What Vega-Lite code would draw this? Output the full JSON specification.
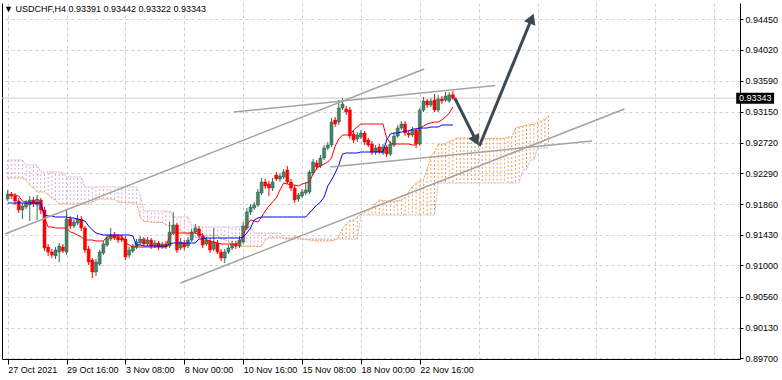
{
"$schema": "https://vega.github.io/schema/vega-lite/v6.json",
"width": 738, "height": 356,
"autosize": {"type": "none"},
"padding": {"left": 2, "top": 3, "right": 42, "bottom": 21},
"background": "white",
"config": {"view": {"stroke": null}, "font": "Liberation Sans"},
"title": {"text": "▼ USDCHF,H4  0.93391 0.93442 0.93322 0.93343", "anchor": "start", "frame": "group", "orient": "top", "offset": -6, "dy": 9, "baseline": "middle", "fontSize": 9, "fontWeight": "normal", "font": "Liberation Sans", "color": "#000", "dx": 2},
"datasets": {
"bars": [
{"i":0,"o":0.91931,"h":0.92057,"l":0.91903,"c":0.92001,"t":0.91987,"k":0.91875},
{"i":1,"o":0.92001,"h":0.92029,"l":0.91931,"c":0.91973,"t":0.91987,"k":0.91875},
{"i":2,"o":0.91973,"h":0.92015,"l":0.91847,"c":0.91903,"t":0.91987,"k":0.91875},
{"i":3,"o":0.91903,"h":0.91945,"l":0.91735,"c":0.91777,"t":0.91973,"k":0.91875},
{"i":4,"o":0.91777,"h":0.91875,"l":0.91651,"c":0.91833,"t":0.91903,"k":0.91875},
{"i":5,"o":0.91819,"h":0.91917,"l":0.91791,"c":0.91875,"t":0.91889,"k":0.91875},
{"i":6,"o":0.91847,"h":0.91973,"l":0.91623,"c":0.91917,"t":0.91889,"k":0.91875},
{"i":7,"o":0.91917,"h":0.91959,"l":0.91819,"c":0.91861,"t":0.91875,"k":0.91875},
{"i":8,"o":0.91847,"h":0.91987,"l":0.91637,"c":0.91931,"t":0.91875,"k":0.91875},
{"i":9,"o":0.91917,"h":0.91945,"l":0.91721,"c":0.91777,"t":0.91875,"k":0.91875},
{"i":10,"o":0.91777,"h":0.91819,"l":0.91203,"c":0.91245,"t":0.91665,"k":0.91707},
{"i":11,"o":0.91259,"h":0.91301,"l":0.91133,"c":0.91189,"t":0.91539,"k":0.91693},
{"i":12,"o":0.91189,"h":0.91231,"l":0.91105,"c":0.91147,"t":0.91539,"k":0.91693},
{"i":13,"o":0.91133,"h":0.91259,"l":0.91091,"c":0.91217,"t":0.91525,"k":0.91679},
{"i":14,"o":0.91189,"h":0.91315,"l":0.91049,"c":0.91273,"t":0.91525,"k":0.91679},
{"i":15,"o":0.91259,"h":0.91301,"l":0.91175,"c":0.91203,"t":0.91525,"k":0.91679},
{"i":16,"o":0.91189,"h":0.91777,"l":0.91147,"c":0.91651,"t":0.91525,"k":0.91679},
{"i":17,"o":0.91651,"h":0.91693,"l":0.91511,"c":0.91553,"t":0.91469,"k":0.91665},
{"i":18,"o":0.91553,"h":0.91651,"l":0.91525,"c":0.91609,"t":0.91455,"k":0.91665},
{"i":19,"o":0.91595,"h":0.91707,"l":0.91567,"c":0.91651,"t":0.91427,"k":0.91651},
{"i":20,"o":0.91651,"h":0.91693,"l":0.91483,"c":0.91525,"t":0.91399,"k":0.91637},
{"i":21,"o":0.91525,"h":0.91553,"l":0.91175,"c":0.91217,"t":0.91357,"k":0.91623},
{"i":22,"o":0.91231,"h":0.91273,"l":0.91007,"c":0.91049,"t":0.91357,"k":0.91553},
{"i":23,"o":0.91077,"h":0.91105,"l":0.90825,"c":0.90909,"t":0.91357,"k":0.91497},
{"i":24,"o":0.90909,"h":0.91091,"l":0.90853,"c":0.91049,"t":0.91343,"k":0.91455},
{"i":25,"o":0.91021,"h":0.91217,"l":0.90993,"c":0.91189,"t":0.91343,"k":0.91441},
{"i":26,"o":0.91175,"h":0.91343,"l":0.91147,"c":0.91301,"t":0.91343,"k":0.91427},
{"i":27,"o":0.91287,"h":0.91427,"l":0.91259,"c":0.91385,"t":0.91399,"k":0.91427},
{"i":28,"o":0.91371,"h":0.91525,"l":0.91343,"c":0.91427,"t":0.91413,"k":0.91427},
{"i":29,"o":0.91427,"h":0.91469,"l":0.91357,"c":0.91385,"t":0.91413,"k":0.91427},
{"i":30,"o":0.91399,"h":0.91441,"l":0.91315,"c":0.91357,"t":0.91413,"k":0.91427},
{"i":31,"o":0.91385,"h":0.91427,"l":0.91329,"c":0.91357,"t":0.91413,"k":0.91427},
{"i":32,"o":0.91371,"h":0.91413,"l":0.91077,"c":0.91119,"t":0.91315,"k":0.91427},
{"i":33,"o":0.91147,"h":0.91259,"l":0.91105,"c":0.91217,"t":0.91287,"k":0.91427},
{"i":34,"o":0.91203,"h":0.91301,"l":0.91175,"c":0.91273,"t":0.91259,"k":0.91413},
{"i":35,"o":0.91259,"h":0.91371,"l":0.91231,"c":0.91329,"t":0.91259,"k":0.91287},
{"i":36,"o":0.91315,"h":0.91413,"l":0.91287,"c":0.91371,"t":0.91259,"k":0.91287},
{"i":37,"o":0.91371,"h":0.91399,"l":0.91273,"c":0.91301,"t":0.91259,"k":0.91273},
{"i":38,"o":0.91301,"h":0.91399,"l":0.91273,"c":0.91357,"t":0.91259,"k":0.91273},
{"i":39,"o":0.91357,"h":0.91385,"l":0.91231,"c":0.91273,"t":0.91259,"k":0.91273},
{"i":40,"o":0.91273,"h":0.91357,"l":0.91245,"c":0.91315,"t":0.91259,"k":0.91273},
{"i":41,"o":0.91315,"h":0.91343,"l":0.91217,"c":0.91259,"t":0.91259,"k":0.91273},
{"i":42,"o":0.91259,"h":0.91329,"l":0.91231,"c":0.91301,"t":0.91259,"k":0.91273},
{"i":43,"o":0.91301,"h":0.91343,"l":0.91231,"c":0.91259,"t":0.91259,"k":0.91273},
{"i":44,"o":0.91273,"h":0.91609,"l":0.91245,"c":0.91469,"t":0.91413,"k":0.91301},
{"i":45,"o":0.91455,"h":0.91749,"l":0.91427,"c":0.91567,"t":0.91455,"k":0.91315},
{"i":46,"o":0.91567,"h":0.91595,"l":0.91175,"c":0.91217,"t":0.91455,"k":0.91315},
{"i":47,"o":0.91245,"h":0.91385,"l":0.91217,"c":0.91329,"t":0.91455,"k":0.91315},
{"i":48,"o":0.91315,"h":0.91357,"l":0.91217,"c":0.91259,"t":0.91455,"k":0.91315},
{"i":49,"o":0.91273,"h":0.91399,"l":0.91245,"c":0.91357,"t":0.91455,"k":0.91315},
{"i":50,"o":0.91357,"h":0.91511,"l":0.91329,"c":0.91469,"t":0.91455,"k":0.91315},
{"i":51,"o":0.91469,"h":0.91581,"l":0.91441,"c":0.91525,"t":0.91455,"k":0.91315},
{"i":52,"o":0.91511,"h":0.91553,"l":0.91385,"c":0.91413,"t":0.91441,"k":0.91371},
{"i":53,"o":0.91413,"h":0.91455,"l":0.91245,"c":0.91287,"t":0.91427,"k":0.91371},
{"i":54,"o":0.91301,"h":0.91399,"l":0.91273,"c":0.91357,"t":0.91357,"k":0.91385},
{"i":55,"o":0.91343,"h":0.91385,"l":0.91175,"c":0.91217,"t":0.91343,"k":0.91385},
{"i":56,"o":0.91231,"h":0.91525,"l":0.91203,"c":0.91329,"t":0.91329,"k":0.91385},
{"i":57,"o":0.91315,"h":0.91357,"l":0.91161,"c":0.91189,"t":0.91315,"k":0.91385},
{"i":58,"o":0.91189,"h":0.91231,"l":0.91063,"c":0.91105,"t":0.91301,"k":0.91385},
{"i":59,"o":0.91105,"h":0.91231,"l":0.91035,"c":0.91189,"t":0.91301,"k":0.91385},
{"i":60,"o":0.91189,"h":0.91287,"l":0.91161,"c":0.91245,"t":0.91301,"k":0.91385},
{"i":61,"o":0.91245,"h":0.91343,"l":0.91217,"c":0.91301,"t":0.91301,"k":0.91385},
{"i":62,"o":0.91301,"h":0.91343,"l":0.91231,"c":0.91273,"t":0.91301,"k":0.91385},
{"i":63,"o":0.91273,"h":0.91413,"l":0.91245,"c":0.91357,"t":0.91329,"k":0.91385},
{"i":64,"o":0.91329,"h":0.91609,"l":0.91301,"c":0.91553,"t":0.91413,"k":0.91399},
{"i":65,"o":0.91525,"h":0.91805,"l":0.91497,"c":0.91749,"t":0.91567,"k":0.91455},
{"i":66,"o":0.91749,"h":0.91861,"l":0.91707,"c":0.91819,"t":0.91637,"k":0.91525},
{"i":67,"o":0.91805,"h":0.91889,"l":0.91777,"c":0.91847,"t":0.91623,"k":0.91637},
{"i":68,"o":0.91847,"h":0.92071,"l":0.91819,"c":0.92029,"t":0.91609,"k":0.91665},
{"i":69,"o":0.92015,"h":0.92225,"l":0.91987,"c":0.92169,"t":0.91679,"k":0.91679},
{"i":70,"o":0.92169,"h":0.92211,"l":0.92071,"c":0.92113,"t":0.91763,"k":0.91679},
{"i":71,"o":0.92141,"h":0.92183,"l":0.91973,"c":0.92085,"t":0.91833,"k":0.91679},
{"i":72,"o":0.92085,"h":0.92225,"l":0.92043,"c":0.92169,"t":0.91889,"k":0.91679},
{"i":73,"o":0.92267,"h":0.92309,"l":0.92183,"c":0.92211,"t":0.91945,"k":0.91679},
{"i":74,"o":0.92211,"h":0.92295,"l":0.92169,"c":0.92253,"t":0.92057,"k":0.91679},
{"i":75,"o":0.92239,"h":0.92351,"l":0.92211,"c":0.92309,"t":0.92155,"k":0.91679},
{"i":76,"o":0.92337,"h":0.92393,"l":0.92141,"c":0.92169,"t":0.92141,"k":0.91679},
{"i":77,"o":0.92169,"h":0.92211,"l":0.92043,"c":0.92085,"t":0.92127,"k":0.91679},
{"i":78,"o":0.92085,"h":0.92127,"l":0.91875,"c":0.91917,"t":0.92127,"k":0.91679},
{"i":79,"o":0.91931,"h":0.92015,"l":0.91889,"c":0.91987,"t":0.92113,"k":0.91679},
{"i":80,"o":0.91973,"h":0.92071,"l":0.91945,"c":0.92029,"t":0.92141,"k":0.91679},
{"i":81,"o":0.92015,"h":0.92169,"l":0.91987,"c":0.92057,"t":0.92155,"k":0.91679},
{"i":82,"o":0.92029,"h":0.92337,"l":0.92001,"c":0.92309,"t":0.92169,"k":0.91735},
{"i":83,"o":0.92295,"h":0.92491,"l":0.92267,"c":0.92449,"t":0.92281,"k":0.91791},
{"i":84,"o":0.92435,"h":0.92477,"l":0.92337,"c":0.92379,"t":0.92365,"k":0.91847},
{"i":85,"o":0.92393,"h":0.92547,"l":0.92365,"c":0.92505,"t":0.92393,"k":0.91889},
{"i":86,"o":0.92505,"h":0.92687,"l":0.92477,"c":0.92645,"t":0.92421,"k":0.91959},
{"i":87,"o":0.92645,"h":0.92729,"l":0.92617,"c":0.92687,"t":0.92449,"k":0.92113},
{"i":88,"o":0.92687,"h":0.93065,"l":0.92659,"c":0.93009,"t":0.92505,"k":0.92197},
{"i":89,"o":0.93037,"h":0.93079,"l":0.92939,"c":0.92981,"t":0.92673,"k":0.92295},
{"i":90,"o":0.93009,"h":0.93317,"l":0.92967,"c":0.93205,"t":0.92771,"k":0.92407},
{"i":91,"o":0.93205,"h":0.93345,"l":0.93177,"c":0.93261,"t":0.92827,"k":0.92561},
{"i":92,"o":0.93191,"h":0.93233,"l":0.93107,"c":0.93149,"t":0.92827,"k":0.92575},
{"i":93,"o":0.93177,"h":0.93219,"l":0.92771,"c":0.92813,"t":0.92827,"k":0.92575},
{"i":94,"o":0.92841,"h":0.92883,"l":0.92715,"c":0.92757,"t":0.92897,"k":0.92575},
{"i":95,"o":0.92771,"h":0.92869,"l":0.92729,"c":0.92827,"t":0.92939,"k":0.92575},
{"i":96,"o":0.92799,"h":0.92897,"l":0.92771,"c":0.92855,"t":0.92981,"k":0.92589},
{"i":97,"o":0.92855,"h":0.92883,"l":0.92687,"c":0.92729,"t":0.92981,"k":0.92589},
{"i":98,"o":0.92757,"h":0.92785,"l":0.92659,"c":0.92687,"t":0.92981,"k":0.92589},
{"i":99,"o":0.92701,"h":0.92743,"l":0.92547,"c":0.92589,"t":0.92981,"k":0.92589},
{"i":100,"o":0.92589,"h":0.92687,"l":0.92547,"c":0.92645,"t":0.92981,"k":0.92589},
{"i":101,"o":0.92659,"h":0.92701,"l":0.92561,"c":0.92589,"t":0.92981,"k":0.92589},
{"i":102,"o":0.92575,"h":0.92701,"l":0.92547,"c":0.92659,"t":0.92981,"k":0.92589},
{"i":103,"o":0.92659,"h":0.92687,"l":0.92519,"c":0.92561,"t":0.92785,"k":0.92757},
{"i":104,"o":0.92561,"h":0.92743,"l":0.92533,"c":0.92701,"t":0.92715,"k":0.92841},
{"i":105,"o":0.92687,"h":0.92855,"l":0.92659,"c":0.92813,"t":0.92701,"k":0.92855},
{"i":106,"o":0.92813,"h":0.92967,"l":0.92785,"c":0.92925,"t":0.92701,"k":0.92855},
{"i":107,"o":0.92925,"h":0.93023,"l":0.92897,"c":0.92981,"t":0.92701,"k":0.92869},
{"i":108,"o":0.92981,"h":0.93023,"l":0.92813,"c":0.92855,"t":0.92701,"k":0.92883},
{"i":109,"o":0.92855,"h":0.92897,"l":0.92785,"c":0.92827,"t":0.92701,"k":0.92883},
{"i":110,"o":0.92827,"h":0.92939,"l":0.92799,"c":0.92897,"t":0.92687,"k":0.92911},
{"i":111,"o":0.92897,"h":0.92925,"l":0.92645,"c":0.92701,"t":0.92687,"k":0.92911},
{"i":112,"o":0.92701,"h":0.93205,"l":0.92673,"c":0.93177,"t":0.92925,"k":0.92925},
{"i":113,"o":0.93177,"h":0.93359,"l":0.93149,"c":0.93303,"t":0.92953,"k":0.92925},
{"i":114,"o":0.93303,"h":0.93331,"l":0.93205,"c":0.93247,"t":0.92981,"k":0.92925},
{"i":115,"o":0.93247,"h":0.93345,"l":0.93219,"c":0.93303,"t":0.92995,"k":0.92939},
{"i":116,"o":0.93317,"h":0.93401,"l":0.93149,"c":0.93177,"t":0.93009,"k":0.92939},
{"i":117,"o":0.93177,"h":0.93387,"l":0.93149,"c":0.93331,"t":0.93009,"k":0.92939},
{"i":118,"o":0.93331,"h":0.93373,"l":0.93261,"c":0.93303,"t":0.93037,"k":0.92967},
{"i":119,"o":0.93317,"h":0.93429,"l":0.93289,"c":0.93373,"t":0.93079,"k":0.92967},
{"i":120,"o":0.93303,"h":0.93429,"l":0.93275,"c":0.93387,"t":0.93135,"k":0.92967},
{"i":121,"o":0.93391,"h":0.93442,"l":0.93322,"c":0.93343,"t":0.93219,"k":0.92967}
],
"cloud": [
{"i":0,"a":0.92225,"b":0.92477},{"i":1,"a":0.92225,"b":0.92477},{"i":2,"a":0.92225,"b":0.92477},{"i":3,"a":0.92225,"b":0.92477},{"i":4,"a":0.92225,"b":0.92477},
{"i":5,"a":0.92197,"b":0.92407},{"i":6,"a":0.92127,"b":0.92407},{"i":7,"a":0.92085,"b":0.92407},{"i":8,"a":0.92029,"b":0.92407},
{"i":9,"a":0.92029,"b":0.92309},{"i":10,"a":0.92029,"b":0.92309},{"i":11,"a":0.91987,"b":0.92309},{"i":12,"a":0.91945,"b":0.92309},{"i":13,"a":0.91917,"b":0.92309},{"i":14,"a":0.91861,"b":0.92309},{"i":15,"a":0.91861,"b":0.92309},
{"i":16,"a":0.91861,"b":0.92239},{"i":17,"a":0.91861,"b":0.92239},{"i":18,"a":0.91861,"b":0.92239},{"i":19,"a":0.91861,"b":0.92239},{"i":20,"a":0.91861,"b":0.92239},
{"i":21,"a":0.91861,"b":0.92099},{"i":22,"a":0.91861,"b":0.92099},{"i":23,"a":0.91889,"b":0.92099},{"i":24,"a":0.91917,"b":0.92099},{"i":25,"a":0.91931,"b":0.92099},{"i":26,"a":0.91931,"b":0.92099},{"i":27,"a":0.91931,"b":0.92099},{"i":28,"a":0.91931,"b":0.92099},{"i":29,"a":0.91924,"b":0.92099},{"i":30,"a":0.91889,"b":0.92099},{"i":31,"a":0.91882,"b":0.92099},{"i":32,"a":0.91882,"b":0.92099},{"i":33,"a":0.91875,"b":0.92099},{"i":34,"a":0.91875,"b":0.92099},{"i":35,"a":0.91875,"b":0.92099},
{"i":36,"a":0.91686,"b":0.91987},{"i":37,"a":0.91616,"b":0.91763},{"i":38,"a":0.91616,"b":0.91763},{"i":39,"a":0.91602,"b":0.91763},{"i":40,"a":0.91602,"b":0.91763},{"i":41,"a":0.91602,"b":0.91763},{"i":42,"a":0.91602,"b":0.91763},{"i":43,"a":0.91567,"b":0.91763},{"i":44,"a":0.9156,"b":0.91763},
{"i":45,"a":0.91539,"b":0.91679},{"i":46,"a":0.91518,"b":0.91679},{"i":47,"a":0.9149,"b":0.91679},{"i":48,"a":0.91455,"b":0.91679},{"i":49,"a":0.91427,"b":0.91679},{"i":50,"a":0.91406,"b":0.91567},
{"i":51,"a":0.91392,"b":0.91539},{"i":52,"a":0.91385,"b":0.91539},{"i":53,"a":0.91413,"b":0.91539},{"i":54,"a":0.9142,"b":0.91539},{"i":55,"a":0.9142,"b":0.91539},{"i":56,"a":0.9142,"b":0.91539},{"i":57,"a":0.9142,"b":0.91539},{"i":58,"a":0.91371,"b":0.91539},{"i":59,"a":0.91357,"b":0.91539},{"i":60,"a":0.91336,"b":0.91539},{"i":61,"a":0.91273,"b":0.91539},{"i":62,"a":0.91273,"b":0.91539},{"i":63,"a":0.91266,"b":0.91539},{"i":64,"a":0.91266,"b":0.91539},{"i":65,"a":0.91266,"b":0.91539},{"i":66,"a":0.91266,"b":0.91539},
{"i":67,"a":0.91266,"b":0.91455},{"i":68,"a":0.91266,"b":0.91455},{"i":69,"a":0.91266,"b":0.91455},{"i":70,"a":0.91357,"b":0.91455},{"i":71,"a":0.91385,"b":0.91455},{"i":72,"a":0.91385,"b":0.91455},{"i":73,"a":0.91385,"b":0.91455},{"i":74,"a":0.91385,"b":0.91455},
{"i":75,"a":0.91385,"b":0.91371},{"i":76,"a":0.91385,"b":0.91371},{"i":77,"a":0.91385,"b":0.91371},{"i":78,"a":0.91406,"b":0.91371},{"i":79,"a":0.91399,"b":0.91371},{"i":80,"a":0.91371,"b":0.91371},{"i":81,"a":0.91364,"b":0.91371},{"i":82,"a":0.91357,"b":0.91371},{"i":83,"a":0.9135,"b":0.91371},{"i":84,"a":0.91343,"b":0.91371},{"i":85,"a":0.91343,"b":0.91371},{"i":86,"a":0.91343,"b":0.91371},{"i":87,"a":0.91343,"b":0.91371},{"i":88,"a":0.91343,"b":0.91371},{"i":89,"a":0.91357,"b":0.91371},{"i":90,"a":0.91406,"b":0.91371},{"i":91,"a":0.91511,"b":0.91371},{"i":92,"a":0.91581,"b":0.91371},{"i":93,"a":0.9163,"b":0.91371},{"i":94,"a":0.91637,"b":0.91371},{"i":95,"a":0.91679,"b":0.91371},
{"i":96,"a":0.91721,"b":0.91707},{"i":97,"a":0.91756,"b":0.91707},{"i":98,"a":0.91784,"b":0.91707},{"i":99,"a":0.91812,"b":0.91707},{"i":100,"a":0.91868,"b":0.91707},{"i":101,"a":0.91917,"b":0.91707},{"i":102,"a":0.9191,"b":0.91707},{"i":103,"a":0.91903,"b":0.91707},{"i":104,"a":0.91903,"b":0.91707},{"i":105,"a":0.91896,"b":0.91707},{"i":106,"a":0.9191,"b":0.91707},{"i":107,"a":0.91917,"b":0.91707},{"i":108,"a":0.91952,"b":0.91707},{"i":109,"a":0.92036,"b":0.91707},{"i":110,"a":0.92106,"b":0.91707},{"i":111,"a":0.92148,"b":0.91707},{"i":112,"a":0.92183,"b":0.91707},{"i":113,"a":0.92204,"b":0.91707},{"i":114,"a":0.92351,"b":0.91707},{"i":115,"a":0.92533,"b":0.91707},{"i":116,"a":0.92589,"b":0.91707},
{"i":117,"a":0.92694,"b":0.92155},{"i":118,"a":0.92701,"b":0.92155},{"i":119,"a":0.92701,"b":0.92155},{"i":120,"a":0.92736,"b":0.92155},{"i":121,"a":0.92757,"b":0.92155},{"i":122,"a":0.92785,"b":0.92155},{"i":123,"a":0.92785,"b":0.92155},{"i":124,"a":0.92785,"b":0.92155},{"i":125,"a":0.92785,"b":0.92155},{"i":126,"a":0.92785,"b":0.92155},{"i":127,"a":0.92785,"b":0.92155},{"i":128,"a":0.92785,"b":0.92155},{"i":129,"a":0.92771,"b":0.92155},{"i":130,"a":0.92778,"b":0.92155},{"i":131,"a":0.92778,"b":0.92155},{"i":132,"a":0.92778,"b":0.92155},{"i":133,"a":0.92778,"b":0.92155},{"i":134,"a":0.92778,"b":0.92155},{"i":135,"a":0.92778,"b":0.92155},{"i":136,"a":0.92799,"b":0.92155},{"i":137,"a":0.92799,"b":0.92155},{"i":138,"a":0.92925,"b":0.92155},{"i":139,"a":0.92939,"b":0.92155},
{"i":140,"a":0.92953,"b":0.92337},{"i":141,"a":0.92967,"b":0.92337},{"i":142,"a":0.92974,"b":0.92477},{"i":143,"a":0.92974,"b":0.92477},{"i":144,"a":0.93002,"b":0.92645},{"i":145,"a":0.93023,"b":0.92645},{"i":146,"a":0.93051,"b":0.92645},{"i":147,"a":0.93093,"b":0.92645}
],
"trend": [
{"i1":-0.72,"p1":0.91441,"i2":113.2,"p2":0.93751},
{"i1":61.5,"p1":0.93149,"i2":132.5,"p2":0.9352},
{"i1":87.7,"p1":0.92379,"i2":158.8,"p2":0.92743},
{"i1":47.0,"p1":0.90755,"i2":167.6,"p2":0.93191}
],
"arrows": [
{"i1":121.5,"p1":0.93345,"i2":127.3,"p2":0.92749},
{"i1":128.2,"p1":0.92673,"i2":141.9,"p2":0.94395}
]
},
"resolve": {"axis": {"y": "independent"}},
"layer": [
{"data": {"name": "cloud"},
 "mark": {"type": "rule", "strokeWidth": 1, "strokeDash": [2, 2]},
 "encoding": {
  "x": {"field": "i", "type": "quantitative", "scale": {"domain": [-0.188, 197.67], "nice": false, "zero": false}, "title": null,
        "axis": {"title": null, "values": [0,8,16,24,32,40,48,56,64,72,80,88,96,104,112,120,128,136,144,152,160,168,176,184,192],
                 "grid": true, "gridColor": "#cfcfcf", "gridDash": [3, 3], "gridWidth": 1,
                 "domain": true, "domainColor": "#000", "domainWidth": 1,
                 "ticks": true, "tickColor": "#000", "tickSize": 5,
                 "tickOpacity": {"condition": {"test": "datum.value % 16 === 0 && datum.value <= 112", "value": 1}, "value": 0},
                 "labelExpr": "(datum.value % 16 === 0 && datum.value <= 112) ? ['27 Oct 2021','29 Oct 16:00','3 Nov 08:00','8 Nov 00:00','10 Nov 16:00','15 Nov 08:00','18 Nov 00:00','22 Nov 16:00'][datum.value / 16] : ''",
                 "labelAlign": "left", "labelBaseline": "top", "labelPadding": 1, "labelFontSize": 9, "labelColor": "#000", "labelFont": "Liberation Sans", "labelFlush": false, "labelOverlap": false, "labelBound": false}},
  "y": {"field": "a", "type": "quantitative", "scale": {"domain": [0.89691, 0.94675], "nice": false, "zero": false}, "title": null,
        "axis": {"orient": "right", "title": null, "values": [0.897, 0.9013, 0.9056, 0.91, 0.9143, 0.9186, 0.9229, 0.9272, 0.9315, 0.9359, 0.9402, 0.9445], "format": ".5f",
                 "grid": true, "gridColor": "#cfcfcf", "gridDash": [3, 3], "gridWidth": 1,
                 "domain": true, "domainColor": "#000", "ticks": true, "tickColor": "#000", "tickSize": 3,
                 "labelPadding": 2, "labelFontSize": 9, "labelColor": "#000", "labelFont": "Liberation Sans", "labelOverlap": false, "labelFlush": false}},
  "y2": {"field": "b"},
  "color": {"condition": {"test": "datum.a > datum.b", "value": "#f4a05a"}, "value": "#d3b0d3"}
 }},
{"data": {"name": "cloud"},
 "mark": {"type": "line", "strokeWidth": 1, "strokeDash": [2, 1], "color": "#f4a05a"},
 "encoding": {
  "x": {"field": "i", "type": "quantitative", "scale": {"domain": [-0.188, 197.67], "nice": false, "zero": false}, "title": null},
  "y": {"field": "a", "type": "quantitative", "scale": {"domain": [0.89691, 0.94675], "nice": false, "zero": false}, "axis": null, "title": null}
 }},
{"data": {"name": "cloud"},
 "mark": {"type": "line", "strokeWidth": 1, "strokeDash": [2, 1], "color": "#d3b0d3"},
 "encoding": {
  "x": {"field": "i", "type": "quantitative", "scale": {"domain": [-0.188, 197.67], "nice": false, "zero": false}, "title": null},
  "y": {"field": "b", "type": "quantitative", "scale": {"domain": [0.89691, 0.94675], "nice": false, "zero": false}, "axis": null, "title": null}
 }},
{"data": {"values": [{"p": 0.93343}]},
 "mark": {"type": "rule", "color": "#cdcdcd", "strokeWidth": 1},
 "encoding": {
  "y": {"field": "p", "type": "quantitative", "scale": {"domain": [0.89691, 0.94675], "nice": false, "zero": false}, "title": null,
        "axis": {"orient": "left", "title": null, "domain": true, "domainColor": "#000", "ticks": false, "labels": false, "grid": false}}
 }},
{"data": {"name": "bars"},
 "mark": {"type": "rule", "strokeWidth": 1},
 "encoding": {
  "x": {"field": "i", "type": "quantitative", "scale": {"domain": [-0.188, 197.67], "nice": false, "zero": false}, "title": null},
  "y": {"field": "h", "type": "quantitative", "scale": {"domain": [0.89691, 0.94675], "nice": false, "zero": false}, "axis": null, "title": null},
  "y2": {"field": "l"},
  "color": {"condition": {"test": "datum.c >= datum.o", "value": "#356f53"}, "value": "#ff0000"}
 }},
{"data": {"name": "bars"},
 "mark": {"type": "bar", "width": 3, "strokeWidth": 0.5},
 "encoding": {
  "x": {"field": "i", "type": "quantitative", "scale": {"domain": [-0.188, 197.67], "nice": false, "zero": false}, "title": null},
  "y": {"field": "o", "type": "quantitative", "scale": {"domain": [0.89691, 0.94675], "nice": false, "zero": false}, "axis": null, "title": null},
  "y2": {"field": "c"},
  "fill": {"condition": {"test": "datum.c >= datum.o", "value": "#44856a"}, "value": "#ff0000"},
  "stroke": {"condition": {"test": "datum.c >= datum.o", "value": "#2b5c45"}, "value": "#ff0000"}
 }},
{"data": {"name": "bars"},
 "mark": {"type": "line", "strokeWidth": 1, "color": "#ff0000"},
 "encoding": {
  "x": {"field": "i", "type": "quantitative", "scale": {"domain": [-0.188, 197.67], "nice": false, "zero": false}, "title": null},
  "y": {"field": "t", "type": "quantitative", "scale": {"domain": [0.89691, 0.94675], "nice": false, "zero": false}, "axis": null, "title": null}
 }},
{"data": {"name": "bars"},
 "mark": {"type": "line", "strokeWidth": 1, "color": "#0000ff"},
 "encoding": {
  "x": {"field": "i", "type": "quantitative", "scale": {"domain": [-0.188, 197.67], "nice": false, "zero": false}, "title": null},
  "y": {"field": "k", "type": "quantitative", "scale": {"domain": [0.89691, 0.94675], "nice": false, "zero": false}, "axis": null, "title": null}
 }},
{"data": {"name": "trend"},
 "mark": {"type": "rule", "strokeWidth": 1.5, "color": "#a3a3a3", "clip": true},
 "encoding": {
  "x": {"field": "i1", "type": "quantitative", "scale": {"domain": [-0.188, 197.67], "nice": false, "zero": false}, "title": null},
  "x2": {"field": "i2"},
  "y": {"field": "p1", "type": "quantitative", "scale": {"domain": [0.89691, 0.94675], "nice": false, "zero": false}, "axis": null, "title": null},
  "y2": {"field": "p2"}
 }},
{"data": {"name": "arrows"},
 "mark": {"type": "rule", "strokeWidth": 3, "color": "#3b4955"},
 "encoding": {
  "x": {"field": "i1", "type": "quantitative", "scale": {"domain": [-0.188, 197.67], "nice": false, "zero": false}, "title": null},
  "x2": {"field": "i2"},
  "y": {"field": "p1", "type": "quantitative", "scale": {"domain": [0.89691, 0.94675], "nice": false, "zero": false}, "axis": null, "title": null},
  "y2": {"field": "p2"}
 }},
{"data": {"values": [{"i": 127.3, "p": 0.92749}]},
 "mark": {"type": "point", "shape": "triangle-up", "filled": true, "size": 150, "angle": 154, "color": "#3b4955", "opacity": 1},
 "encoding": {
  "x": {"field": "i", "type": "quantitative", "scale": {"domain": [-0.188, 197.67], "nice": false, "zero": false}, "title": null},
  "y": {"field": "p", "type": "quantitative", "scale": {"domain": [0.89691, 0.94675], "nice": false, "zero": false}, "axis": null, "title": null}
 }},
{"data": {"values": [{"i": 142.4, "p": 0.94457}]},
 "mark": {"type": "point", "shape": "triangle-up", "filled": true, "size": 150, "angle": 22, "color": "#3b4955", "opacity": 1},
 "encoding": {
  "x": {"field": "i", "type": "quantitative", "scale": {"domain": [-0.188, 197.67], "nice": false, "zero": false}, "title": null},
  "y": {"field": "p", "type": "quantitative", "scale": {"domain": [0.89691, 0.94675], "nice": false, "zero": false}, "axis": null, "title": null}
 }},
{"data": {"values": [{"p": 0.93343}]},
 "mark": {"type": "rect", "color": "#000"},
 "encoding": {
  "x": {"datum": 198.0, "type": "quantitative", "scale": {"domain": [-0.188, 197.67], "nice": false, "zero": false}, "title": null},
  "x2": {"datum": 208.3},
  "y": {"datum": 0.9342, "type": "quantitative", "scale": {"domain": [0.89691, 0.94675], "nice": false, "zero": false}, "axis": null, "title": null},
  "y2": {"datum": 0.93266}
 }},
{"data": {"values": [{"p": 0.93343}]},
 "mark": {"type": "text", "color": "#fff", "fontSize": 9, "font": "Liberation Sans", "align": "center", "baseline": "middle"},
 "encoding": {
  "x": {"datum": 203.2, "type": "quantitative", "scale": {"domain": [-0.188, 197.67], "nice": false, "zero": false}, "title": null},
  "y": {"field": "p", "type": "quantitative", "scale": {"domain": [0.89691, 0.94675], "nice": false, "zero": false}, "axis": null, "title": null},
  "text": {"field": "p", "type": "quantitative", "format": ".5f"}
 }}
]
}
